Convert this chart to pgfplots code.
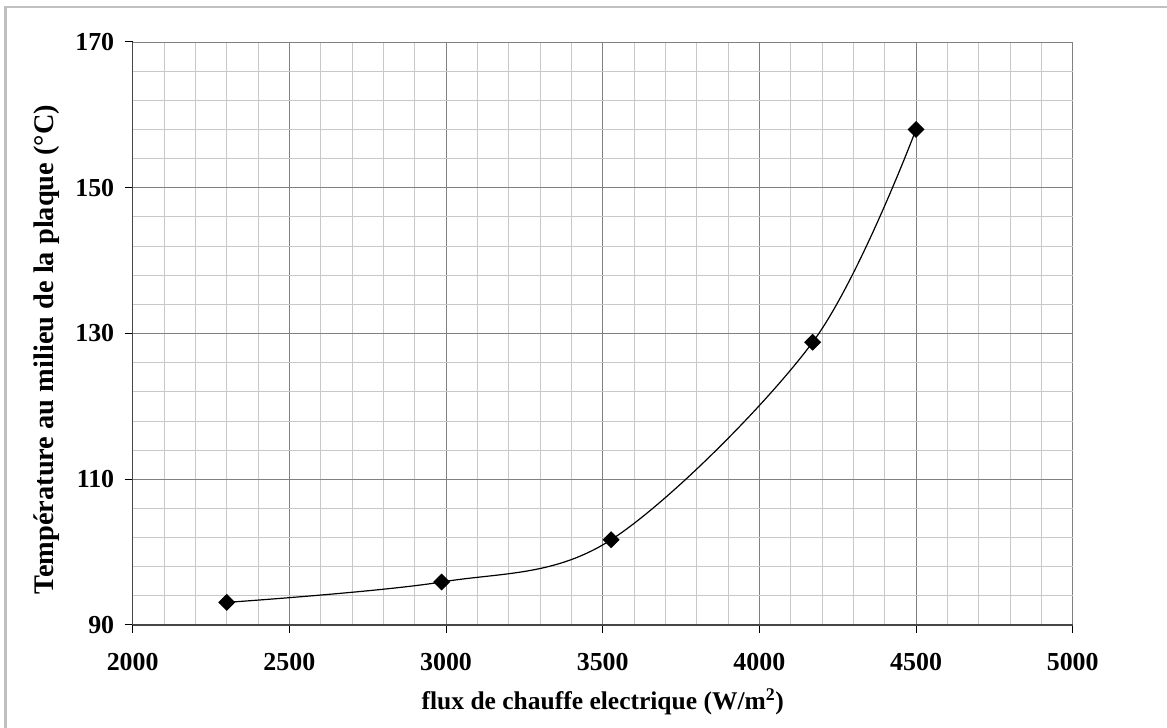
\documentclass[border=0pt]{standalone}
\usepackage{pgfplots}
\pgfplotsset{compat=1.18}
\usepackage{fontspec}
\setmainfont{Liberation Serif}
\begin{document}
\begin{tikzpicture}[x=1bp,y=1bp]
\path[use as bounding box] (0,0) rectangle (1167,728);
\draw[color={rgb,255:red,192;green,192;blue,192}, line width=2.2bp] (5.5,0) -- (5.5,721) -- (1167,721);
\begin{axis}[
  at={(132.7bp,103bp)}, anchor=south west,
  scale only axis, width=940bp, height=583bp,
  xmin=2000, xmax=5000, ymin=90, ymax=170,
  xtick={2000,2500,...,5000}, ytick={90,110,...,170},
  minor x tick num=4, minor y tick num=4,
  grid=both,
  major grid style={color={rgb,255:red,128;green,128;blue,128}, line width=0.8bp},
  minor grid style={color={rgb,255:red,200;green,200;blue,200}, line width=0.8bp},
  axis x line*=bottom, axis y line*=left,
  axis line style={color={rgb,255:red,70;green,70;blue,70}, line width=1.4bp, -},
  tick align=outside, major tick length=8bp,
  minor tick length=0pt,
  tick style={black, line width=1bp},
  /pgf/number format/assume math mode=true,
  /pgf/number format/1000 sep={},
  ticklabel style={font=\fontsize{26}{30}\selectfont\bfseries},
  yticklabel style={xshift=-7bp},
  xticklabel style={yshift=-17bp},
  xlabel={flux de chauffe electrique (W/m\textsuperscript{2})},
  ylabel={Température au milieu de la plaque (°C)},
  xlabel style={font=\fontsize{25.6}{29}\selectfont\bfseries, yshift=-11bp},
  ylabel style={font=\fontsize{28.5}{32}\selectfont\bfseries, xshift=-16bp, yshift=9bp},
  clip=false,
]
\addplot[black, line width=1.2bp, smooth, tension=0.55,
  mark=square*, mark size=5.4bp, mark options={rotate=45, fill=black}]
  coordinates {(2300,93.1) (2986,95.9) (3527,101.7) (4170,128.8) (4500,158.0)};
\end{axis}
\end{tikzpicture}
\end{document}
